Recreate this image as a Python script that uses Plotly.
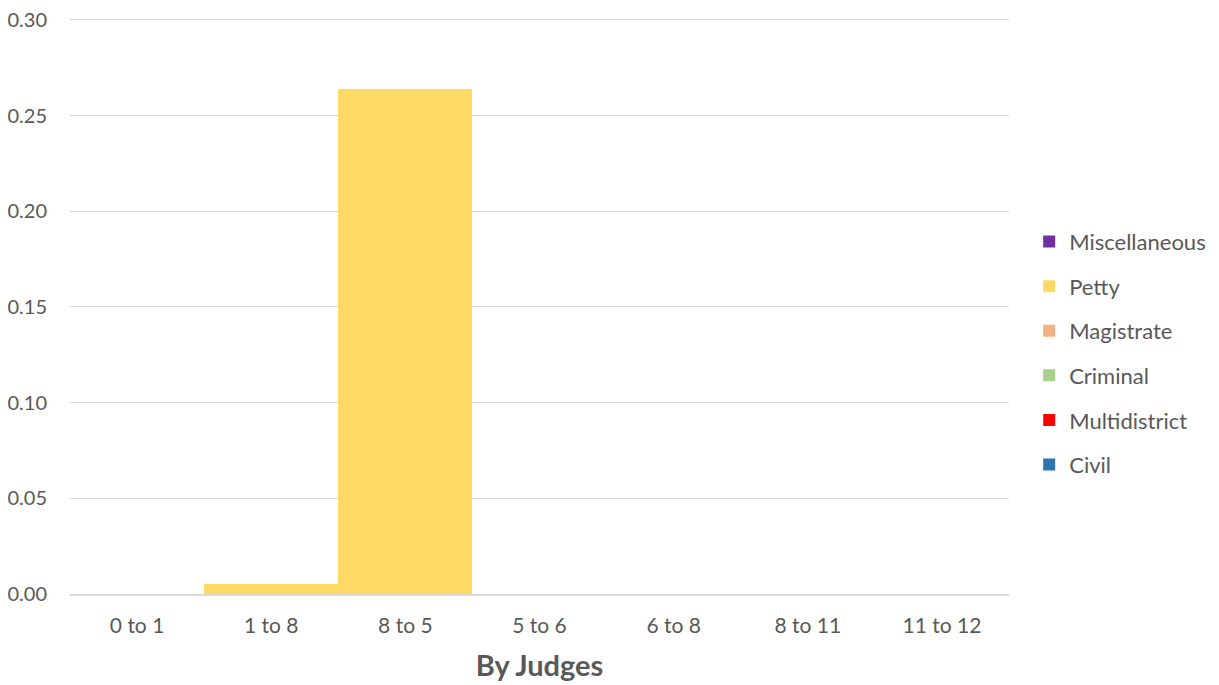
import plotly.graph_objects as go

categories = ["0 to 1", "1 to 8", "8 to 5", "5 to 6", "6 to 8", "8 to 11", "11 to 12"]
civil = [0, 0, 0, 0, 0, 0, 0]
multidistrict = [0, 0, 0, 0, 0, 0, 0]
criminal = [0, 0, 0, 0, 0, 0, 0]
magistrate = [0, 0, 0, 0, 0, 0, 0]
petty = [0, 0.0052, 0.264, 0, 0, 0, 0]
miscellaneous = [0, 0, 0, 0, 0, 0, 0]
y_ticks = [0, 0.05, 0.10, 0.15, 0.20, 0.25, 0.30]

series = [
    ("Civil", civil, "#2E75B6"),
    ("Multidistrict", multidistrict, "#FF0000"),
    ("Criminal", criminal, "#A9D18E"),
    ("Magistrate", magistrate, "#F4B183"),
    ("Petty", petty, "#FFD966"),
    ("Miscellaneous", miscellaneous, "#7030A0"),
]

fig = go.Figure()
n = len(series)
for i, (name, vals, color) in enumerate(series):
    fig.add_trace(go.Bar(x=categories, y=vals, name=name, legendgroup=name,
                         legendrank=n - i,
                         marker=dict(color=color, line=dict(width=0))))

font_family = "Lato, 'Open Sans', sans-serif"
fig.update_layout(
    barmode="stack",
    bargap=0,
    width=1211, height=677,
    margin=dict(l=62, r=210, t=10, b=91, autoexpand=False),
    paper_bgcolor="white", plot_bgcolor="white",
    font=dict(family=font_family, size=21, color="#595959"),
    legend=dict(traceorder="grouped", tracegroupgap=13, x=1.0215, y=0.418,
                xanchor="left", yanchor="middle",
                font=dict(size=22, color="#595959"), itemwidth=30),
    xaxis=dict(title=dict(text="<b>By Judges</b>", font=dict(size=29, color="#595959"), standoff=20),
               showline=True, linecolor="#D9D9D9", linewidth=1.5, ticks="",
               automargin=False,
               tickfont=dict(size=21, color="#595959"), ticklabelstandoff=12),
    yaxis=dict(range=[0, 0.301], tickvals=y_ticks,
               tickformat=".2f", showgrid=True, automargin=False,
               ticklabeloverflow="allow",
               gridcolor="#D9D9D9", gridwidth=1, zeroline=False,
               tickfont=dict(size=20, color="#595959"), ticklabelstandoff=22),
)
fig.write_html("out.html")
